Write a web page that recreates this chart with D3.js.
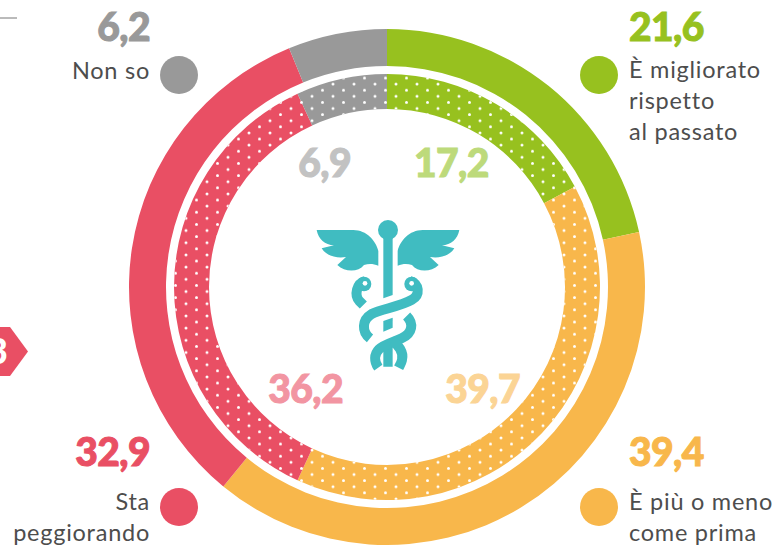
<!DOCTYPE html>
<html lang="it">

<head>
    <meta charset="utf-8">
    <script src="https://d3js.org/d3.v7.min.js"></script>
    <style>
        html, body { margin: 0; padding: 0; background: #fff; overflow: hidden; }
        svg { display: block; }
        text { font-family: Lato, "Open Sans", sans-serif; }
        .num { font-weight: 900; font-size: 39px; letter-spacing: -0.6px; stroke-width: 1px; }
        .lab { font-size: 23.5px; fill: #4d4d4d; letter-spacing: 0.75px; }
    </style>
</head>

<body>
    <script>
        const categories = ['È migliorato rispetto al passato', 'È più o meno come prima', 'Sta peggiorando', 'Non so'];
        const outerValues = [21.6, 39.4, 32.9, 6.2];
        const innerValues = [17.2, 39.7, 36.2, 6.9];
        const colors = ['#97c11f', '#f8b74b', '#e94f64', '#999999'];
        const innerTextColors = ['#bdda7b', '#fbd495', '#f295a2', '#c2c2c2'];
        const labelLines = [['È migliorato', 'rispetto', 'al passato'], ['È più o meno', 'come prima'], ['Sta', 'peggiorando'], ['Non so']];

        const w = 774;
        const h = 546;
        const cx = 387;
        const cy = 287;
        const fmt = (v) => String(v).replace('.', ',');

        const svg = d3.select('body').append('svg')
            .attr('width', w)
            .attr('height', h);

        // staggered white dots on the inner ring
        const pattern = svg.append('defs').append('pattern')
            .attr('id', 'dots')
            .attr('patternUnits', 'userSpaceOnUse')
            .attr('x', cx)
            .attr('y', 77.7)
            .attr('width', 21)
            .attr('height', 12.2);
        [[0, 0], [21, 0], [0, 12.2], [21, 12.2], [10.5, 6.1]].forEach((d) => {
            pattern.append('circle').attr('cx', d[0]).attr('cy', d[1]).attr('r', 1.5).attr('fill', '#fff');
        });

        const pie = d3.pie().sort(null).value((d) => d);
        const outerArc = d3.arc().innerRadius(221).outerRadius(258);
        const innerArc = d3.arc().innerRadius(178).outerRadius(213);

        const g = svg.append('g').attr('transform', 'translate(' + cx + ',' + cy + ')');

        g.selectAll('path.outer')
            .data(pie(outerValues))
            .enter()
            .append('path')
            .attr('class', 'outer')
            .attr('d', outerArc)
            .attr('fill', (d, i) => colors[i]);

        g.selectAll('path.inner')
            .data(pie(innerValues))
            .enter()
            .append('path')
            .attr('class', 'inner')
            .attr('d', innerArc)
            .attr('fill', (d, i) => colors[i]);

        // overlay ring carries the dots so they run across the slices
        svg.append('path')
            .attr('d', innerArc({ startAngle: 0, endAngle: 2 * Math.PI }))
            .attr('transform', 'translate(' + cx + ',' + cy + ')')
            .attr('fill', 'url(#dots)');

        // outer value + legend, [x, anchor, value baseline, first line baseline, circle x, circle y]
        const legendPos = [
            [629, 'start', 41, 78, 599, 75],
            [629, 'start', 466, 510, 599, 507],
            [150, 'end', 466, 510, 179, 507],
            [150, 'end', 41, 79, 179, 75]
        ];

        outerValues.forEach((v, i) => {
            const p = legendPos[i];
            svg.append('text').attr('class', 'num')
                .attr('x', p[0]).attr('y', p[2])
                .attr('text-anchor', p[1])
                .attr('fill', colors[i])
                .attr('stroke', colors[i])
                .text(fmt(v));
            svg.append('circle')
                .attr('cx', p[4]).attr('cy', p[5]).attr('r', 19)
                .attr('fill', colors[i]);
            labelLines[i].forEach((line, j) => {
                svg.append('text').attr('class', 'lab')
                    .attr('x', p[0]).attr('y', p[3] + j * 31)
                    .attr('text-anchor', p[1])
                    .text(line);
            });
        });

        // inner values
        const innerPos = [[414, 'start', 177], [520, 'end', 403], [343, 'end', 403], [351, 'end', 177]];
        innerValues.forEach((v, i) => {
            const p = innerPos[i];
            svg.append('text').attr('class', 'num')
                .attr('x', p[0]).attr('y', p[2])
                .attr('text-anchor', p[1])
                .attr('fill', innerTextColors[i])
                .attr('stroke', innerTextColors[i])
                .text(fmt(v));
        });

        // leftovers of the page layout: rule and tag
        svg.append('line')
            .attr('x1', 0).attr('x2', 17).attr('y1', 18).attr('y2', 18)
            .attr('stroke', '#777').attr('stroke-width', 1);
        svg.append('path')
            .attr('d', 'M0,327H10L28,351.5L10,376H0Z')
            .attr('fill', '#e94f64');
        svg.append('text')
            .attr('x', 8).attr('y', 364).attr('text-anchor', 'end')
            .attr('font-weight', 900).attr('font-size', 36).attr('fill', '#fff')
            .text('3');

        // caduceus icon, traced at 3x and scaled down
        const teal = '#40bcc1';
        const icon = svg.append('g').attr('transform', 'translate(310,215) scale(0.3333)');
        icon.append('circle').attr('cx', 234).attr('cy', 45).attr('r', 30).attr('fill', teal);
        const fills = [
            'M220,60H248V240L220,250Z',
            'M220,318L248,308V338L220,350Z',
            'M220,395L248,385V455H220Z',
            // left wing
            'M20,45H130C170,45 198,78 205,108V152C190,146 175,146 162,150C145,172 105,172 82,150L108,126C80,130 50,124 35,100L72,91C45,90 25,72 20,45Z',
            // right wing
            'M448,45H338C298,45 270,78 263,108V152C278,146 293,146 306,150C323,172 363,172 386,150L360,126C388,130 418,124 433,100L396,91C423,90 443,72 448,45Z'
        ];
        icon.selectAll('path.fill')
            .data(fills)
            .enter()
            .append('path')
            .attr('class', 'fill')
            .attr('d', (d) => d)
            .attr('fill', teal);
        const strokes = [
            // right snake: head, neck, across to the lower left
            'M300,198C328,205 332,240 305,255C270,275 215,282 185,297C155,315 155,350 180,370',
            // left snake neck
            'M165,198C140,205 132,240 148,258L160,270',
            // left snake body after crossing
            'M290,303C312,325 308,355 275,370C250,382 222,388 207,403C192,418 192,440 205,458',
            // tail coming out from under the band
            'M245,378C265,388 282,412 276,435C274,445 270,450 266,458'
        ];
        icon.selectAll('path.snake')
            .data(strokes)
            .enter()
            .append('path')
            .attr('class', 'snake')
            .attr('d', (d) => d)
            .attr('fill', 'none')
            .attr('stroke', teal)
            .attr('stroke-width', 30);
        icon.append('circle').attr('cx', 305).attr('cy', 207).attr('r', 22).attr('fill', teal);
        icon.append('circle').attr('cx', 162).attr('cy', 207).attr('r', 22).attr('fill', teal);
        icon.append('circle').attr('cx', 305).attr('cy', 205).attr('r', 7).attr('fill', '#fff');
        icon.append('circle').attr('cx', 165).attr('cy', 205).attr('r', 7).attr('fill', '#fff');
    </script>

</body>

</html>
